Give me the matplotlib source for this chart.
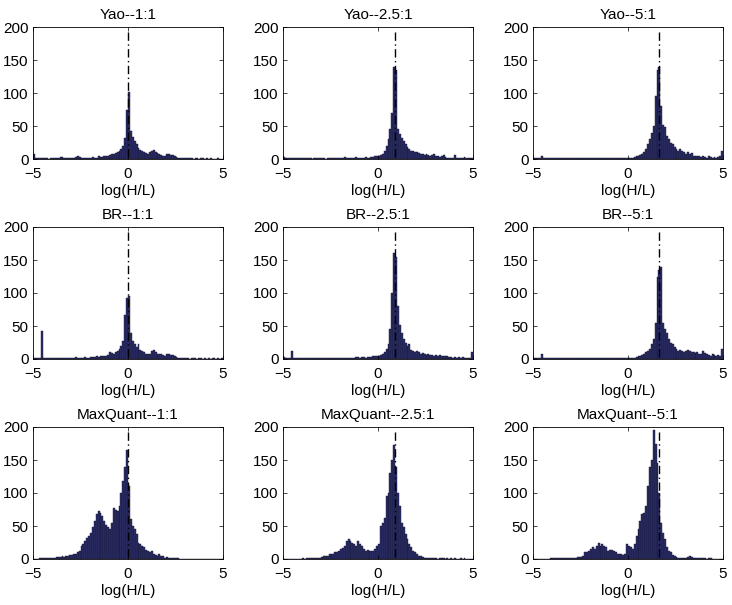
import numpy as np
import matplotlib
matplotlib.use("Agg")
import matplotlib.pyplot as plt

plt.rcParams['font.family'] = ['Liberation Sans', 'DejaVu Sans']
plt.rcParams['font.size'] = 11

methods = ["Yao", "BR", "MaxQuant"]
ratio_labels = ["1:1", "2.5:1", "5:1"]
ratio_values = [1.0, 2.5, 5.0]
bin_edges = np.linspace(-5, 5, 101)

yao_1 = [7,2,1,1,1,2,1,1,0,1,
         1,1,2,2,3,3,2,2,1,1,
         1,2,3,4,3,2,2,1,2,2,
         2,3,2,2,4,3,3,4,5,5,
         6,8,8,9,10,12,15,20,32,75,
         102,42,33,28,22,16,14,12,10,9,
         8,10,12,13,11,9,8,6,5,4,
         8,7,6,6,5,3,2,2,1,1,
         1,1,2,1,0,1,1,0,1,1,
         0,1,0,1,0,0,0,1,0,0]
yao_25 = [3,1,1,1,2,1,1,1,1,1,
          1,2,1,1,1,0,1,1,1,1,
          1,1,0,1,1,1,1,1,2,2,
          2,2,3,2,2,2,2,2,3,2,
          2,2,2,3,2,2,3,3,4,5,
          5,6,8,12,20,30,45,70,140,135,
          45,38,32,27,22,18,15,12,12,11,
          10,9,8,7,6,7,6,5,6,7,
          5,4,3,5,6,3,2,2,2,2,
          6,2,1,1,2,3,1,1,2,1]
yao_5 = [2,1,1,1,4,1,1,1,1,1,
         1,1,1,1,1,1,2,1,1,1,
         2,1,2,1,1,1,1,1,1,1,
         1,1,2,2,1,1,1,1,1,1,
         1,1,1,1,1,2,1,1,1,1,
         1,2,2,3,4,5,6,8,10,15,
         22,30,40,50,95,135,140,80,52,48,
         35,30,25,22,18,15,12,15,12,10,
         8,10,8,9,5,4,5,4,3,4,
         3,2,4,3,2,3,2,3,4,12]
br_1 = [2,1,1,1,42,1,1,1,1,1,
        1,1,2,2,1,2,2,1,1,1,
        2,2,3,2,1,2,2,3,2,2,
        3,3,3,4,3,4,5,4,5,6,
        10,9,8,10,12,15,20,28,67,92,
        95,40,28,22,18,22,14,12,10,8,
        7,8,12,13,10,8,7,8,6,5,
        8,7,6,6,4,3,2,2,1,1,
        1,1,0,1,1,1,0,1,1,0,
        1,0,1,0,1,1,0,1,0,1]
br_25 = [3,1,1,1,12,1,1,1,1,1,
         1,2,1,1,1,1,1,1,1,1,
         1,1,1,1,1,1,2,1,1,2,
         1,2,2,2,1,2,2,2,3,3,
         2,3,3,2,3,3,3,4,4,4,
         5,6,8,10,15,22,45,100,160,155,
         80,52,40,30,25,20,22,14,12,10,
         12,10,8,9,8,6,7,6,6,5,
         6,5,6,5,4,5,4,3,3,2,
         3,2,3,2,3,2,1,1,2,10]
br_5 = [2,1,1,1,7,2,1,1,1,1,
        1,1,1,1,1,1,1,1,1,1,
        1,1,1,1,2,1,1,1,1,1,
        1,1,1,2,1,1,1,1,1,2,
        1,1,1,1,2,1,2,2,1,2,
        1,2,2,2,3,4,5,6,8,10,
        12,15,22,30,55,125,135,140,55,45,
        40,30,25,22,18,15,12,14,12,10,
        12,13,12,10,11,9,10,7,8,12,
        9,7,6,5,7,6,5,6,4,15]
mq_1 = [0,0,0,1,1,1,1,2,1,2,
        2,2,3,3,3,4,3,4,5,6,
        6,8,8,10,12,20,22,28,32,35,
        40,48,58,68,72,70,65,58,52,48,
        45,55,77,75,72,80,100,118,140,165,
        110,60,50,45,38,25,22,20,18,14,
        12,10,12,8,6,5,8,5,4,2,
        3,2,2,1,1,1,1,0,0,0,
        0,0,0,0,0,0,0,0,0,0,
        0,0,0,0,0,0,0,0,0,0]
mq_25 = [0,0,0,0,0,0,0,0,0,0,
         1,0,1,1,1,1,2,1,2,2,
         3,4,5,5,7,7,8,10,10,12,
         15,17,20,28,30,28,25,22,20,28,
         22,20,15,12,13,12,12,12,15,20,
         22,50,55,62,95,100,130,150,172,140,
         100,80,55,48,38,30,22,18,12,10,
         8,5,4,3,2,2,1,1,1,1,
         1,0,1,2,1,0,1,0,1,0,
         1,0,0,1,0,1,0,0,0,0]
mq_5 = [0,0,0,0,0,0,0,0,0,1,
        1,1,2,2,1,2,1,1,2,2,
        2,2,2,3,3,3,4,10,10,12,
        15,18,15,20,25,20,22,20,18,12,
        13,14,12,10,8,8,7,6,8,22,
        20,18,15,22,35,45,58,68,70,80,
        110,140,150,195,175,145,100,55,40,30,
        18,12,10,6,4,3,2,2,2,2,
        2,3,5,3,2,1,1,1,1,1,
        1,0,1,1,0,0,0,0,0,0]

counts = [[yao_1, yao_25, yao_5],
          [br_1, br_25, br_5],
          [mq_1, mq_25, mq_5]]

W, H = 732, 605
fig = plt.figure(figsize=(W / 100, H / 100), dpi=100)
lefts = [33, 283, 533]
tops = [27, 227, 427]
aw, ah = 190, 132

for r, m in enumerate(methods):
    for c, rl in enumerate(ratio_labels):
        ax = fig.add_axes([lefts[c] / W, 1 - (tops[r] + ah) / H, aw / W, ah / H])
        ax.bar(bin_edges[:-1], counts[r][c], width=0.1, align='edge',
               color='#2b2d6b', edgecolor='#161630', linewidth=0.3)
        lx = np.log(ratio_values[c])
        ax.plot([lx, lx], [192, 0], color='black', linewidth=1.0,
                linestyle=(0, (6, 2.5, 1, 2.5)))
        ax.set_xlim(-5, 5)
        ax.set_ylim(0, 200)
        ax.set_xticks([-5, 0, 5])
        ax.set_yticks([0, 50, 100, 150, 200])
        ax.tick_params(direction='in', top=True, right=True, length=3, width=0.5,
                       labelsize=11)
        ax.tick_params(axis='x', pad=5.5)
        ax.tick_params(axis='y', pad=3)
        for s in ax.spines.values():
            s.set_linewidth(0.6)
        ax.set_title(f"{m}--{rl}", fontsize=11, pad=6)
        ax.set_xlabel("log(H/L)", fontsize=11, labelpad=2.5)

fig.savefig("out.png", dpi=100)
